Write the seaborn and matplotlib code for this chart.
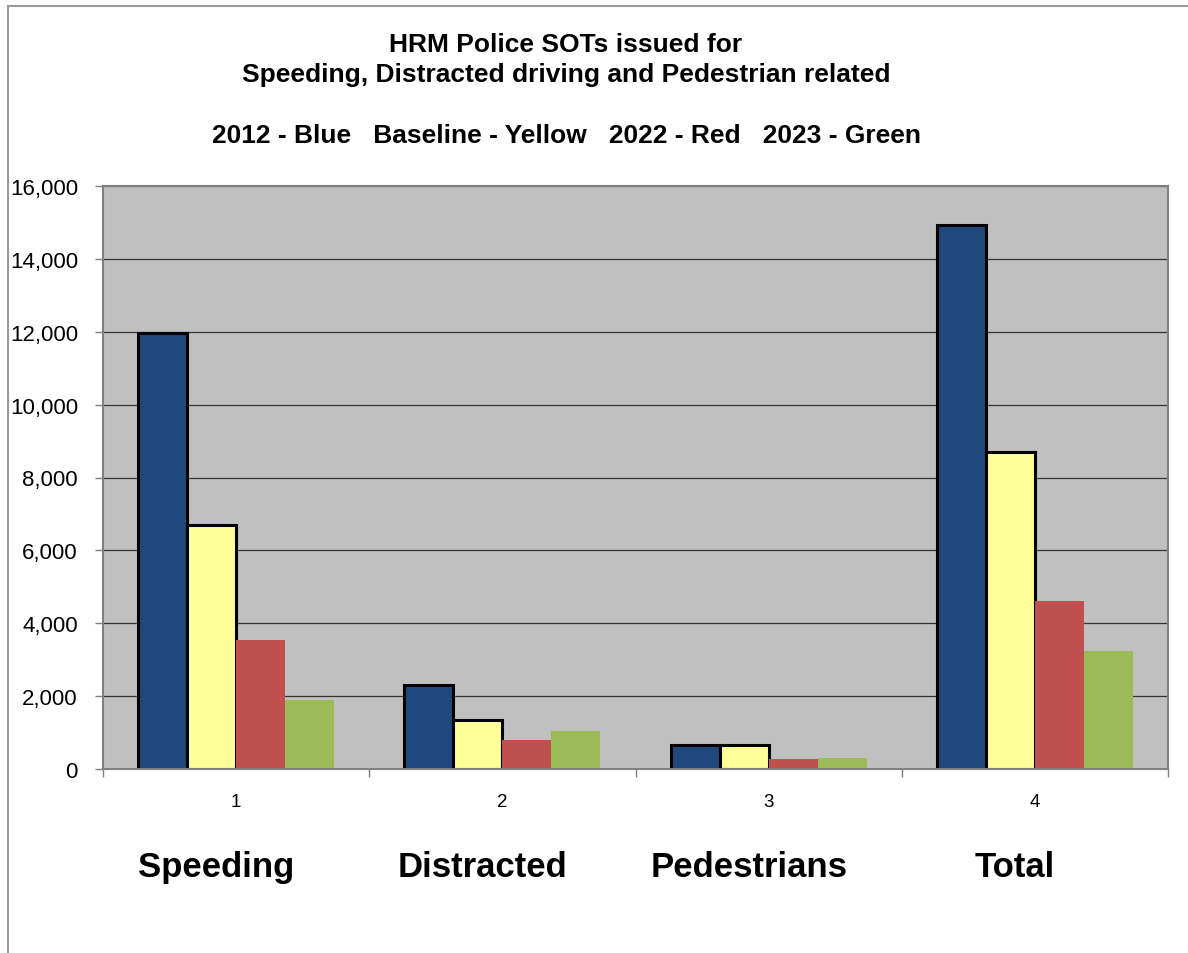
import matplotlib
matplotlib.use("Agg")
import matplotlib.pyplot as plt
import seaborn as sns
import pandas as pd
import numpy as np
from matplotlib.ticker import FuncFormatter, MultipleLocator
from matplotlib.patches import Rectangle

# ---- data ----
categories = ["1", "2", "3", "4"]
category_names = ["Speeding", "Distracted", "Pedestrians", "Total"]
series = ["2012", "Baseline", "2022", "2023"]
values_2012 = [11960, 2310, 660, 14930]
values_baseline = [6690, 1350, 660, 8700]
values_2022 = [3540, 800, 270, 4610]
values_2023 = [1900, 1050, 290, 3240]
colors = ["#1F497D", "#FFFF99", "#C0504D", "#9BBB59"]
edged = [True, True, False, False]

rows = []
for s, vals in zip(series, [values_2012, values_baseline, values_2022, values_2023]):
    for c, v in zip(categories, vals):
        rows.append({"cat": c, "series": s, "value": v})
df = pd.DataFrame(rows)

sns.set_theme(style="white")
plt.rcParams['font.family'] = ['Liberation Sans', 'DejaVu Sans']
plt.rcParams['text.color'] = 'black'

fig = plt.figure(figsize=(11.88, 9.54), dpi=100)
ax = fig.add_axes([103/1188, 1-770/954, (1168-103)/1188, (770-187)/954])

sns.barplot(data=df, x="cat", y="value", hue="series", order=categories,
            hue_order=series, palette=colors, width=0.736, gap=0,
            saturation=1, legend=False, ax=ax, errorbar=None)

# edges for the first two series
for cont, e in zip(ax.containers, edged):
    for p in cont:
        if e:
            p.set_edgecolor("black")
            p.set_linewidth(2.2)
        else:
            p.set_edgecolor("none")
            p.set_linewidth(0)

ax.set_facecolor("#C0C0C0")
ax.set_ylim(0, 16000)
ax.set_xlim(-0.5, 3.5)
ax.yaxis.set_major_locator(MultipleLocator(2000))
ax.yaxis.set_major_formatter(FuncFormatter(lambda v, p: f"{int(v):,}"))
ax.grid(axis="y", color="#333333", linewidth=0.9)
ax.set_axisbelow(True)
for sp in ax.spines.values():
    sp.set_visible(True)
    sp.set_color("#808080")
    sp.set_linewidth(1.5)

ax.set_xlabel("")
ax.set_ylabel("")
ax.tick_params(axis="y", which="major", left=True, length=6, width=1, color="#808080",
               labelsize=16, pad=12, labelcolor="black")
ax.tick_params(axis="x", which="major", bottom=False, length=0, labelsize=13.5, pad=17,
               labelcolor="black")
ax.set_xticks(np.arange(-0.5, 4.0, 1.0), minor=True)
ax.tick_params(axis="x", which="minor", bottom=True, length=6, width=1, color="#808080")

for i, name in enumerate(category_names):
    ax.text(i - 0.075, -0.168, name, transform=ax.get_xaxis_transform(), ha="center",
            va="center", fontsize=25, fontweight="bold", color="black")

title_x = 566/1188
title_kw = dict(ha="center", va="center", fontsize=19, fontweight="bold", color="black")
fig.text(title_x, 1-45/954, "HRM Police SOTs issued for", **title_kw)
fig.text(title_x, 1-75/954, "Speeding, Distracted driving and Pedestrian related", **title_kw)
fig.text(title_x, 1-136/954, "2012 - Blue   Baseline - Yellow   2022 - Red   2023 - Green",
         **title_kw)

# outer chart border
fig.patches.append(Rectangle((8/1188, -0.02), 1.05, 1-7/954 + 0.02, transform=fig.transFigure,
                             fill=False, edgecolor="#999999", linewidth=1.5))

fig.savefig("out.png", dpi=100, facecolor="white")
